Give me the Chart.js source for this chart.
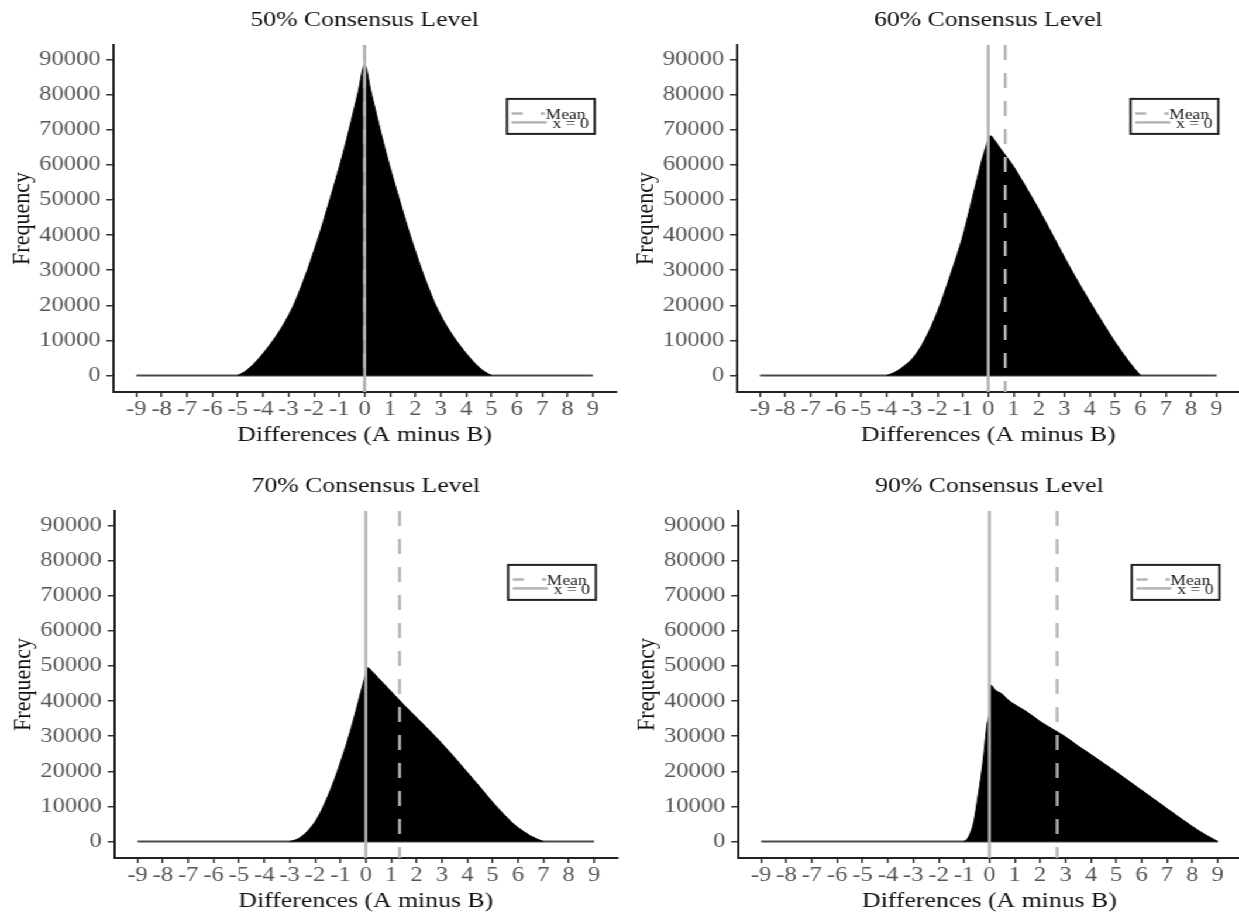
<!DOCTYPE html>
<html>
<head>
<meta charset="utf-8">
<title>Differences by Consensus Level</title>
<script src="https://cdn.jsdelivr.net/npm/chart.js@4.4.1/dist/chart.umd.min.js"></script>
<style>
    html, body { margin: 0; padding: 0; background: #fff; width: 1239px; height: 917px; overflow: hidden; }
    /* the reference figure is stretched horizontally, so the whole stage is too */
    #stage { position: absolute; left: 0; top: 0; width: 1059px; height: 917px; transform: scaleX(1.17); transform-origin: 0 0; }
    .panel { position: absolute; width: 530px; height: 460px; }
    .panel canvas { display: block; }
</style>
</head>
<body>
<div id="stage">
    <div class="panel" style="left:0px;top:0px"><canvas id="chart50" width="530" height="460"></canvas></div>
    <div class="panel" style="left:533px;top:0px"><canvas id="chart60" width="530" height="460"></canvas></div>
    <div class="panel" style="left:1px;top:466px"><canvas id="chart70" width="530" height="460"></canvas></div>
    <div class="panel" style="left:534px;top:466px"><canvas id="chart90" width="530" height="460"></canvas></div>
</div>
<script>
// Etiquetas de los ejes
const xTicks = [-9, -8, -7, -6, -5, -4, -3, -2, -1, 0, 1, 2, 3, 4, 5, 6, 7, 8, 9];
const yTicks = [0, 10000, 20000, 30000, 40000, 50000, 60000, 70000, 80000, 90000];
const titles = ["50% Consensus Level", "60% Consensus Level", "70% Consensus Level", "90% Consensus Level"];
const legendLabels = ["Mean", "x = 0"];
const zeroLineX = [-9, 9];

// Media de cada panel (línea discontinua)
const means = [0.0, 0.67, 1.33, 2.67];

// Histogramas (diferencia, frecuencia)
const diff50 = [-5, -4.75, -4.5, -4.25, -4, -3.75, -3.5, -3.25, -3, -2.75, -2.5, -2.25, -2, -1.75, -1.5, -1.25, -1, -0.75, -0.5, -0.25,
    0, 0.25, 0.5, 0.75, 1, 1.25, 1.5, 1.75, 2, 2.25, 2.5, 2.75, 3, 3.25, 3.5, 3.75, 4, 4.25, 4.5, 4.75, 5];
const freq50 = [0, 1000, 2400, 4200, 6300, 8600, 11100, 13900, 17100, 20800, 25300, 30100, 35400, 40900, 46900, 53000, 59300, 66000, 73300, 80800,
    88500, 80800, 73300, 66000, 59300, 53000, 46900, 40900, 35400, 30100, 25300, 20800, 17100, 13900, 11100, 8600, 6300, 4200, 2400, 1000, 0];

const diff60 = [-4, -3.75, -3.5, -3.25, -3, -2.75, -2.5, -2.25, -2, -1.75, -1.5, -1.25, -1, -0.75, -0.5, -0.25, 0, 0.1,
    0.25, 0.5, 0.75, 1, 1.25, 1.5, 1.75, 2, 2.25, 2.5, 2.75, 3, 3.25, 3.5, 3.75, 4, 4.25, 4.5, 4.75, 5, 5.25, 5.5, 5.75, 6];
const freq60 = [0, 700, 1700, 3100, 4700, 7100, 10200, 13900, 18200, 23100, 28400, 33800, 39700, 46800, 54100, 61300, 67000, 68300,
    67000, 64400, 62000, 59500, 56500, 53500, 50400, 47200, 43900, 40500, 37100, 33700, 30400, 27200, 24100, 21100, 18100, 15200, 12300, 9500, 6900, 4400, 2100, 0];

const diff70 = [-3, -2.75, -2.5, -2.25, -2, -1.75, -1.5, -1.25, -1, -0.75, -0.5, -0.25, 0, 0.08,
    0.25, 0.5, 0.75, 1, 1.25, 1.5, 1.75, 2, 2.25, 2.5, 2.75, 3, 3.25, 3.5, 3.75, 4, 4.25, 4.5, 4.75, 5, 5.25, 5.5, 5.75, 6, 6.25, 6.5, 6.75, 7];
const freq70 = [0, 500, 1600, 3300, 5600, 8800, 12800, 17300, 22500, 28000, 34200, 41000, 47800, 49500,
    48400, 46500, 44600, 42700, 40800, 38900, 37100, 35300, 33500, 31700, 29800, 27900, 25900, 23900, 21800, 19700, 17600, 15500, 13300, 11200, 9200, 7300, 5500, 4000, 2700, 1600, 700, 0];

const diff90 = [-1, -0.9, -0.75, -0.6, -0.5, -0.4, -0.3, -0.2, -0.1, 0, 0.05, 0.25, 0.5, 0.75, 1,
    1.5, 2, 2.5, 3, 3.5, 4, 4.5, 5, 5.5, 6, 6.5, 7, 7.5, 8, 8.5, 8.75, 9];
const freq90 = [0, 500, 2400, 6000, 10500, 15000, 20000, 26000, 33000, 37000, 44500, 43000, 42000, 40200, 39000,
    36800, 34200, 32000, 29800, 27200, 24800, 22300, 19800, 17200, 14600, 12000, 9400, 6800, 4300, 2000, 1000, 0];

const Y_MIN = -4700, Y_MAX = 94150;
const X_MIN = -9.9, X_MAX = 9.9;
const LINE_GREY = "#b4b4b4";
const FONT = "'Liberation Serif', 'Times New Roman', serif";

Chart.defaults.font.family = FONT;

// Leyenda dentro del área del gráfico, con borde
const legendBox = {
    id: "legendBox",
    afterDatasetsDraw(chart) {
        const { ctx, chartArea } = chart;
        const w = 75, h = 35;
        const x = chartArea.right - 18 - w;
        const y = chartArea.top + 54;
        ctx.save();
        ctx.fillStyle = "#fff";
        ctx.fillRect(x, y, w, h);
        ctx.strokeStyle = "#222";
        ctx.lineWidth = 2;
        ctx.strokeRect(x, y, w, h);

        ctx.strokeStyle = LINE_GREY;
        ctx.lineWidth = 2.5;
        ctx.setLineDash([9.4, 15.4]);
        ctx.beginPath();
        ctx.moveTo(x + 4, y + 14.5);
        ctx.lineTo(x + 32.5, y + 14.5);
        ctx.stroke();
        ctx.setLineDash([]);
        ctx.beginPath();
        ctx.moveTo(x + 4, y + 23.5);
        ctx.lineTo(x + 34, y + 23.5);
        ctx.stroke();

        ctx.fillStyle = "#222";
        ctx.font = "15px " + FONT;
        ctx.textBaseline = "middle";
        ctx.textAlign = "left";
        ctx.fillText(legendLabels[0], x + 33, y + 16.5);
        ctx.fillText(legendLabels[1], x + 39, y + 25.5);
        ctx.restore();
    }
};

function toPoints(xs, ys) {
    return xs.map((x, i) => ({ x: x, y: ys[i] }));
}

function createPanel(canvasId, title, xs, ys, mean) {
    const ctx = document.getElementById(canvasId).getContext("2d");
    return new Chart(ctx, {
        type: "line",
        data: {
            datasets: [
                // x = 0
                { data: [{ x: 0, y: Y_MAX }, { x: 0, y: Y_MIN }], borderColor: LINE_GREY, borderWidth: 2.5, pointRadius: 0, order: 0 },
                // media
                { data: [{ x: mean, y: Y_MAX }, { x: mean, y: Y_MIN }], borderColor: LINE_GREY, borderWidth: 2.5, borderDash: [15, 13], pointRadius: 0, order: 1 },
                // histograma
                { data: toPoints(xs, ys), borderColor: "#000", backgroundColor: "#000", borderWidth: 1, fill: "origin", pointRadius: 0, cubicInterpolationMode: "monotone", order: 2 },
                // línea de frecuencia cero
                { data: zeroLineX.map(x => ({ x: x, y: 0 })), borderColor: "#4a4a4a", borderWidth: 2, pointRadius: 0, order: 3 }
            ]
        },
        options: {
            responsive: false,
            animation: false,
            events: [],
            layout: { padding: { top: 0, left: 0, right: 3.7, bottom: 8 } },
            plugins: {
                legend: { display: false },
                tooltip: { enabled: false },
                title: {
                    display: true,
                    text: title,
                    fullSize: false,
                    color: "#111",
                    font: { size: 22, weight: "normal" },
                    padding: { top: 7.5, bottom: 11 }
                }
            },
            scales: {
                x: {
                    type: "linear",
                    min: X_MIN,
                    max: X_MAX,
                    afterBuildTicks: (scale) => { scale.ticks = xTicks.map(v => ({ value: v })); },
                    afterFit: (scale) => { scale.height = 60; },
                    ticks: { autoSkip: false, maxRotation: 0, minRotation: 0, padding: 0, color: "#555", font: { size: 21 }, callback: (v) => String(v) },
                    grid: { display: true, drawOnChartArea: false, drawTicks: true, tickLength: 5, color: "#333", lineWidth: 1.5 },
                    border: { display: true, color: "#222", width: 2 },
                    title: { display: true, text: "Differences (A minus B)", color: "#111", font: { size: 22 }, padding: { top: 0, bottom: 4 } }
                },
                y: {
                    type: "linear",
                    min: Y_MIN,
                    max: Y_MAX,
                    afterBuildTicks: (scale) => { scale.ticks = yTicks.map(v => ({ value: v })); },
                    afterFit: (scale) => { scale.width = 97; },
                    ticks: { autoSkip: false, padding: 5, color: "#555", font: { size: 21 }, callback: (v) => String(v) },
                    grid: { display: true, drawOnChartArea: false, drawTicks: true, tickLength: 6, color: "#333", lineWidth: 1.5 },
                    border: { display: true, color: "#222", width: 2 },
                    title: { display: true, text: "Frequency", color: "#111", font: { size: 22 }, padding: { top: 5.6, bottom: 0 } }
                }
            }
        },
        plugins: [legendBox]
    });
}

document.addEventListener("DOMContentLoaded", () => {
    createPanel("chart50", titles[0], diff50, freq50, means[0]);
    createPanel("chart60", titles[1], diff60, freq60, means[1]);
    createPanel("chart70", titles[2], diff70, freq70, means[2]);
    createPanel("chart90", titles[3], diff90, freq90, means[3]);
});
</script>
</body>
</html>
